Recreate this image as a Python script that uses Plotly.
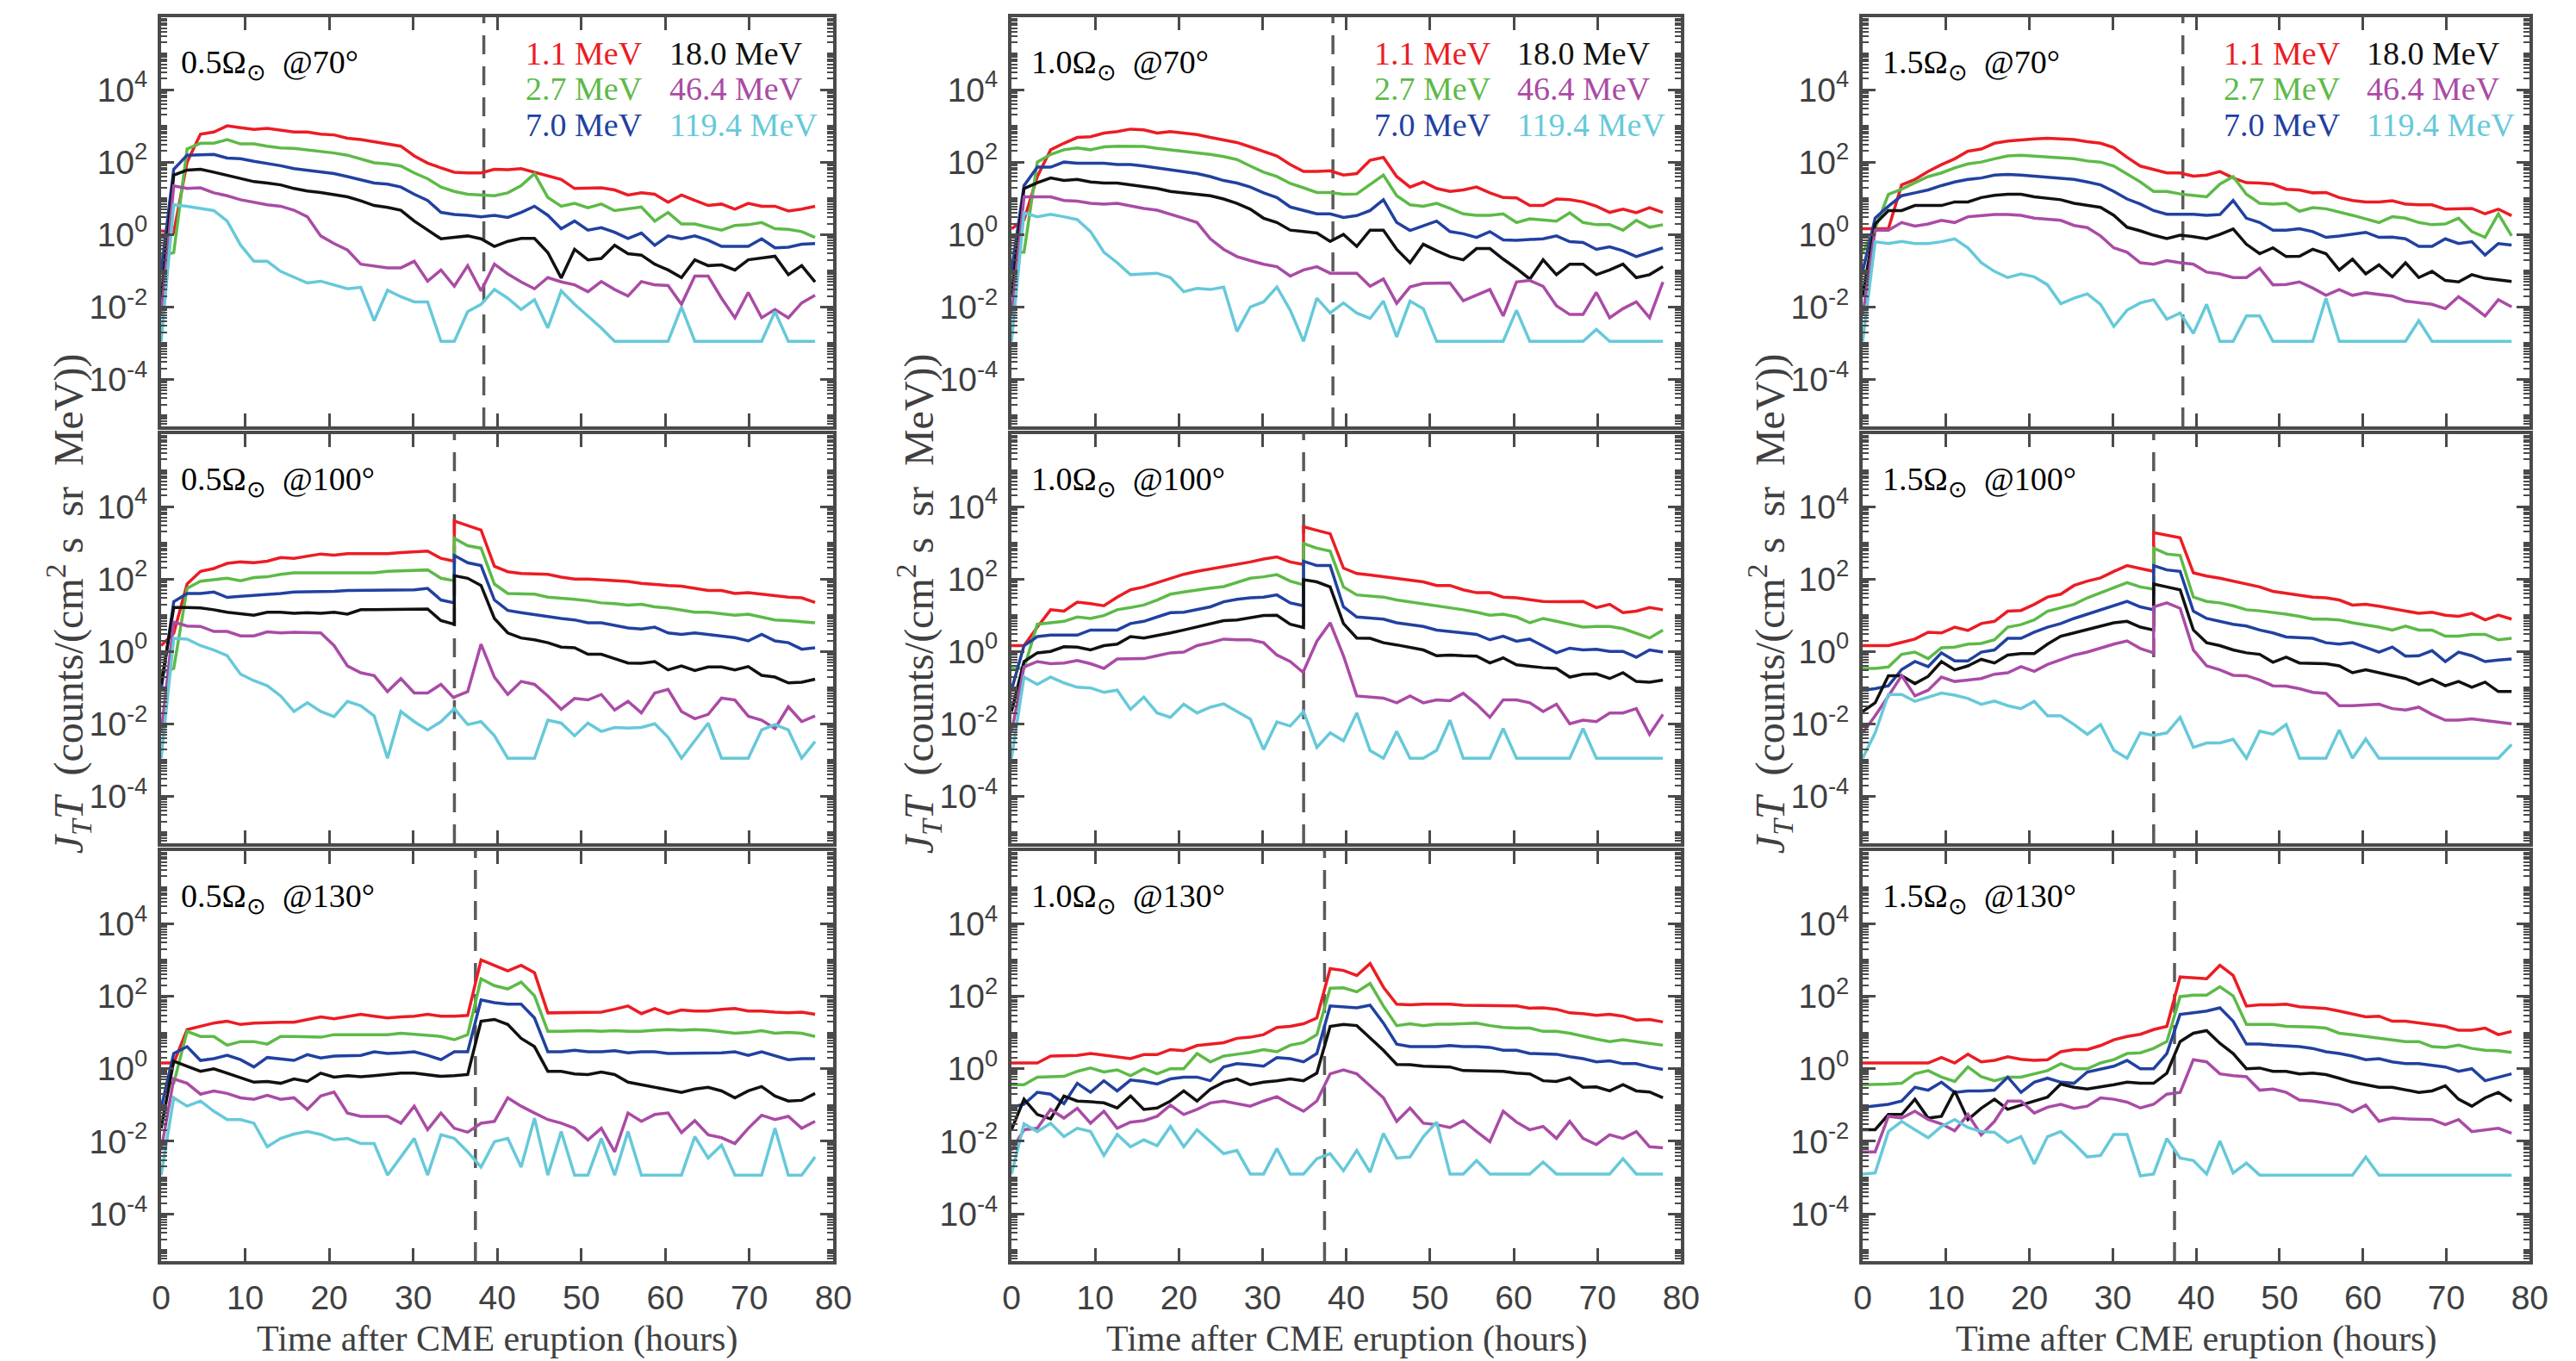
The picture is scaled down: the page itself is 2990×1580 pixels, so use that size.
import numpy as np
import plotly.graph_objects as go

# ---------------- data (log10 of J_T T) ----------------
TIME_HOURS = [0.0, 1.5, 3.09, 4.68, 6.27, 7.86, 9.45, 11.04, 12.63, 14.22,
              15.81, 17.4, 18.99, 20.58, 22.17, 23.76, 25.35, 26.94, 28.53, 30.12,
              31.71, 33.3, 34.89, 36.48, 38.07, 39.66, 41.25, 42.84, 44.43, 46.02,
              47.61, 49.2, 50.79, 52.38, 53.97, 55.56, 57.15, 58.74, 60.33, 61.92,
              63.51, 65.1, 66.69, 68.28, 69.87, 71.46, 73.05, 74.64, 76.23, 77.82]
# row 100 deg: shock sample at 34.89 h is stored twice (before / after the jump)
TIME_HOURS_100 = TIME_HOURS[:23] + [TIME_HOURS[22]] + TIME_HOURS[23:]

SHOCK_TIME = [38.4, 34.9, 37.4]          # dashed lines, rows 70, 100, 130 deg
ANGLES = ["70", "100", "130"]
ROTATIONS = ["0.5", "1.0", "1.5"]
ENERGY_LABELS = ["1.1 MeV", "2.7 MeV", "7.0 MeV", "18.0 MeV", "46.4 MeV", "119.4 MeV"]
COLORS = ["#EC1C24", "#5DBA47", "#2141A0", "#111111", "#AA4BA5", "#66C9D9"]

# ---- 0.5 Omega, 70 deg
R05_A070_E1 = [0.1, 0.05, 2.0, 2.77, 2.83, 3.0, 2.95, 2.9, 2.93, 2.87, 2.83, 2.83, 2.77, 2.75, 2.66, 2.62, 2.56, 2.5, 2.44, 2.17, 1.97, 1.84, 1.72, 1.7, 1.7, 1.8, 1.79, 1.82, 1.72, 1.64, 1.52, 1.27, 1.27, 1.29, 1.23, 1.09, 1.15, 1.11, 0.89, 1.09, 0.94, 0.8, 0.84, 0.7, 0.86, 0.78, 0.78, 0.65, 0.7, 0.78]
R05_A070_E2 = [-0.6, -0.5, 2.36, 2.52, 2.52, 2.62, 2.5, 2.5, 2.44, 2.39, 2.38, 2.34, 2.28, 2.25, 2.19, 2.09, 1.98, 1.95, 1.89, 1.7, 1.54, 1.31, 1.19, 1.11, 1.09, 1.07, 1.15, 1.35, 1.68, 1.02, 0.78, 0.86, 0.74, 0.84, 0.66, 0.7, 0.76, 0.37, 0.61, 0.29, 0.29, 0.2, 0.12, 0.25, 0.27, 0.33, 0.16, 0.14, 0.08, -0.08]
R05_A070_E3 = [-1.02, 1.8, 2.19, 2.19, 2.21, 2.11, 2.09, 2.02, 1.97, 1.9, 1.82, 1.78, 1.72, 1.68, 1.6, 1.52, 1.42, 1.39, 1.31, 1.11, 0.94, 0.61, 0.55, 0.53, 0.49, 0.53, 0.47, 0.61, 0.78, 0.53, 0.16, 0.37, 0.12, 0.19, 0.06, -0.11, 0.04, -0.3, -0.04, -0.12, -0.04, -0.16, -0.33, -0.33, -0.33, -0.12, -0.37, -0.35, -0.27, -0.25]
R05_A070_E4 = [-1.8, 1.64, 1.78, 1.8, 1.72, 1.64, 1.56, 1.46, 1.42, 1.37, 1.27, 1.2, 1.16, 1.11, 1.04, 0.93, 0.8, 0.75, 0.67, 0.37, 0.12, -0.12, -0.08, -0.04, -0.12, -0.33, -0.19, -0.11, -0.11, -0.5, -1.2, -0.41, -0.7, -0.66, -0.3, -0.53, -0.57, -0.82, -0.98, -1.19, -0.7, -0.86, -0.84, -0.98, -0.7, -0.64, -0.6, -1.11, -0.86, -1.31]
R05_A070_E5 = [-2.25, 1.34, 1.27, 1.29, 1.15, 1.07, 0.96, 0.88, 0.82, 0.78, 0.67, 0.49, -0.04, -0.25, -0.43, -0.82, -0.88, -0.92, -0.92, -0.74, -1.29, -0.98, -1.43, -0.86, -1.56, -0.82, -1.09, -1.31, -1.5, -1.19, -1.31, -1.39, -1.58, -1.3, -1.52, -1.7, -1.3, -1.39, -1.41, -1.93, -1.15, -1.15, -1.76, -2.3, -1.6, -2.3, -2.07, -2.3, -1.89, -1.68]
R05_A070_E6 = [-2.95, 0.82, 0.78, 0.72, 0.66, 0.37, -0.29, -0.74, -0.74, -1.02, -1.19, -1.34, -1.29, -1.39, -1.5, -1.46, -2.38, -1.54, -1.72, -1.86, -1.86, -2.95, -2.95, -2.13, -1.93, -1.52, -1.76, -2.07, -1.8, -2.58, -1.56, -1.93, -2.25, -2.58, -2.95, -2.95, -2.95, -2.95, -2.95, -2.0, -2.95, -2.95, -2.95, -2.95, -2.95, -2.95, -2.13, -2.95, -2.95, -2.95]

# ---- 1.0 Omega, 70 deg
R10_A070_E1 = [0.16, 0.4, 1.6, 2.34, 2.52, 2.68, 2.7, 2.8, 2.84, 2.91, 2.89, 2.8, 2.84, 2.8, 2.76, 2.68, 2.62, 2.54, 2.42, 2.3, 2.17, 1.93, 1.74, 1.74, 1.76, 1.64, 1.68, 2.05, 2.13, 1.6, 1.31, 1.45, 1.27, 1.19, 1.23, 1.31, 1.15, 1.02, 1.01, 0.8, 0.8, 0.98, 0.96, 0.9, 0.78, 0.61, 0.7, 0.6, 0.74, 0.61]
R10_A070_E2 = [-0.49, -0.49, 2.0, 2.21, 2.34, 2.39, 2.34, 2.42, 2.44, 2.44, 2.43, 2.38, 2.34, 2.3, 2.25, 2.21, 2.15, 2.07, 1.89, 1.72, 1.6, 1.41, 1.29, 1.16, 1.16, 1.11, 1.12, 1.37, 1.64, 1.07, 0.82, 0.78, 0.86, 0.72, 0.57, 0.53, 0.53, 0.57, 0.33, 0.43, 0.41, 0.37, 0.6, 0.33, 0.27, 0.27, 0.12, 0.39, 0.2, 0.27]
R10_A070_E3 = [-1.02, 1.35, 1.86, 1.86, 2.0, 1.97, 1.97, 1.97, 1.93, 1.93, 1.89, 1.84, 1.78, 1.72, 1.68, 1.6, 1.49, 1.42, 1.31, 1.15, 1.02, 0.76, 0.66, 0.57, 0.57, 0.47, 0.52, 0.66, 0.96, 0.33, 0.11, 0.25, 0.37, 0.08, 0.02, -0.08, 0.08, -0.15, -0.16, -0.14, -0.12, -0.04, -0.2, -0.22, -0.41, -0.34, -0.45, -0.61, -0.49, -0.37]
R10_A070_E4 = [-1.68, 1.27, 1.43, 1.56, 1.49, 1.52, 1.45, 1.42, 1.42, 1.37, 1.31, 1.27, 1.19, 1.15, 1.11, 1.07, 0.98, 0.86, 0.7, 0.45, 0.33, 0.12, 0.08, 0.04, -0.19, 0.0, -0.33, 0.12, 0.12, -0.41, -0.78, -0.27, -0.45, -0.61, -0.7, -0.39, -0.39, -0.68, -0.94, -1.23, -0.7, -1.11, -0.82, -0.82, -1.11, -0.98, -0.82, -1.19, -1.11, -0.89]
R10_A070_E5 = [-2.25, 1.04, 1.04, 1.04, 0.94, 0.92, 0.86, 0.84, 0.86, 0.78, 0.72, 0.67, 0.57, 0.45, 0.33, -0.12, -0.41, -0.61, -0.72, -0.82, -0.89, -1.15, -0.98, -0.89, -1.07, -1.07, -1.07, -1.43, -1.23, -1.9, -1.45, -1.35, -1.35, -1.34, -1.83, -1.68, -1.52, -2.25, -1.31, -1.27, -1.43, -1.97, -2.21, -2.21, -1.6, -2.3, -2.05, -1.86, -2.3, -1.31]
R10_A070_E6 = [-2.95, 0.6, 0.49, 0.56, 0.49, 0.41, 0.08, -0.49, -0.78, -1.11, -1.09, -1.07, -1.19, -1.58, -1.49, -1.52, -1.45, -2.68, -2.0, -1.86, -1.45, -2.09, -2.95, -1.76, -2.17, -1.89, -2.17, -2.32, -1.84, -2.83, -1.84, -2.05, -2.95, -2.95, -2.95, -2.95, -2.95, -2.95, -2.09, -2.95, -2.95, -2.95, -2.95, -2.95, -2.62, -2.95, -2.95, -2.95, -2.95, -2.95]

# ---- 1.5 Omega, 70 deg
R15_A070_E1 = [0.16, 0.16, 0.16, 1.37, 1.52, 1.74, 1.93, 2.09, 2.3, 2.36, 2.52, 2.58, 2.62, 2.64, 2.66, 2.65, 2.62, 2.56, 2.52, 2.4, 2.13, 1.89, 1.8, 1.7, 1.7, 1.61, 1.64, 1.74, 1.56, 1.43, 1.42, 1.39, 1.25, 1.23, 1.15, 1.16, 1.02, 0.94, 0.9, 0.9, 0.93, 0.84, 0.82, 0.82, 0.7, 0.71, 0.72, 0.57, 0.7, 0.52]
R15_A070_E2 = [-0.49, 0.16, 1.11, 1.25, 1.43, 1.6, 1.7, 1.84, 1.95, 2.0, 2.09, 2.17, 2.19, 2.17, 2.15, 2.11, 2.09, 2.03, 2.0, 1.89, 1.66, 1.45, 1.19, 1.19, 1.12, 1.09, 1.04, 1.39, 1.6, 1.11, 0.86, 0.84, 0.86, 0.64, 0.74, 0.71, 0.63, 0.53, 0.43, 0.33, 0.49, 0.45, 0.33, 0.27, 0.29, 0.45, 0.08, -0.08, 0.57, -0.04]
R15_A070_E3 = [-1.02, 0.45, 0.78, 1.07, 1.15, 1.23, 1.35, 1.45, 1.52, 1.56, 1.64, 1.66, 1.64, 1.61, 1.6, 1.57, 1.52, 1.45, 1.37, 1.19, 0.98, 0.84, 0.66, 0.56, 0.56, 0.56, 0.53, 0.55, 0.94, 0.45, 0.33, 0.12, 0.12, 0.16, 0.08, -0.08, -0.04, 0.0, 0.06, -0.08, -0.07, -0.12, -0.33, -0.33, -0.12, -0.25, -0.2, -0.57, -0.25, -0.29]
R15_A070_E4 = [-1.68, 0.29, 0.66, 0.66, 0.8, 0.8, 0.8, 0.9, 0.9, 1.02, 1.08, 1.11, 1.11, 1.04, 1.01, 0.96, 0.86, 0.8, 0.75, 0.53, 0.2, 0.1, -0.02, -0.11, -0.02, -0.06, -0.12, 0.0, 0.15, -0.27, -0.53, -0.37, -0.61, -0.6, -0.41, -0.53, -0.98, -0.68, -1.09, -0.84, -1.17, -0.78, -1.19, -1.02, -1.27, -1.31, -1.11, -1.21, -1.25, -1.3]
R15_A070_E5 = [-2.25, 0.12, 0.12, 0.33, 0.23, 0.29, 0.39, 0.33, 0.49, 0.53, 0.55, 0.55, 0.53, 0.45, 0.43, 0.39, 0.25, 0.19, -0.04, -0.37, -0.49, -0.78, -0.82, -0.72, -0.78, -0.82, -1.04, -1.09, -1.19, -1.19, -0.93, -1.39, -1.38, -1.31, -1.48, -1.68, -1.52, -1.68, -1.61, -1.66, -1.7, -1.84, -1.89, -1.93, -2.05, -1.72, -1.97, -2.25, -1.8, -2.0]
R15_A070_E6 = [-2.95, -0.2, -0.25, -0.19, -0.25, -0.25, -0.2, -0.12, -0.37, -0.78, -1.02, -1.19, -1.09, -1.17, -1.39, -1.91, -1.76, -1.64, -1.93, -2.54, -2.09, -1.89, -1.8, -2.34, -2.17, -2.73, -1.93, -2.95, -2.95, -2.25, -2.25, -2.95, -2.95, -2.95, -2.95, -1.76, -2.95, -2.95, -2.95, -2.95, -2.95, -2.95, -2.38, -2.95, -2.95, -2.95, -2.95, -2.95, -2.95, -2.95]

# ---- 0.5 Omega, 100 deg (51 samples)
R05_A100_E1 = [0.16, 0.5, 1.86, 2.21, 2.29, 2.43, 2.47, 2.45, 2.49, 2.59, 2.57, 2.63, 2.69, 2.66, 2.7, 2.7, 2.69, 2.7, 2.73, 2.74, 2.77, 2.57, 2.49, 3.6, 3.48, 3.35, 2.35, 2.2, 2.15, 2.13, 2.13, 2.05, 2.0, 2.0, 1.98, 1.95, 1.93, 1.88, 1.84, 1.82, 1.8, 1.75, 1.68, 1.68, 1.6, 1.62, 1.58, 1.52, 1.5, 1.48, 1.35]
R05_A100_E2 = [-0.6, -0.47, 1.74, 1.94, 1.98, 2.02, 1.95, 2.04, 2.06, 2.13, 2.17, 2.17, 2.19, 2.19, 2.19, 2.17, 2.17, 2.21, 2.23, 2.23, 2.25, 2.02, 1.95, 3.12, 2.92, 2.85, 1.86, 1.6, 1.6, 1.58, 1.5, 1.48, 1.44, 1.4, 1.34, 1.32, 1.28, 1.3, 1.23, 1.2, 1.15, 1.08, 1.08, 1.03, 1.0, 1.03, 0.95, 0.87, 0.85, 0.83, 0.79]
R05_A100_E3 = [-1.07, 1.37, 1.6, 1.6, 1.64, 1.49, 1.52, 1.54, 1.56, 1.6, 1.64, 1.64, 1.64, 1.66, 1.68, 1.68, 1.7, 1.7, 1.7, 1.7, 1.74, 1.42, 1.34, 2.65, 2.45, 2.37, 1.42, 1.13, 1.07, 1.01, 0.95, 0.91, 0.87, 0.79, 0.79, 0.73, 0.65, 0.62, 0.67, 0.51, 0.47, 0.51, 0.47, 0.42, 0.38, 0.29, 0.47, 0.29, 0.24, 0.06, 0.1]
R05_A100_E4 = [-0.91, 1.21, 1.21, 1.2, 1.15, 1.08, 1.04, 1.0, 1.08, 1.08, 1.05, 1.07, 1.05, 1.08, 1.03, 1.15, 1.15, 1.16, 1.17, 1.17, 1.17, 0.85, 0.75, 2.09, 2.02, 1.82, 0.91, 0.51, 0.37, 0.32, 0.24, 0.12, 0.1, -0.08, -0.08, -0.2, -0.32, -0.33, -0.28, -0.51, -0.4, -0.53, -0.43, -0.43, -0.51, -0.42, -0.66, -0.71, -0.87, -0.85, -0.77]
R05_A100_E5 = [-2.25, 0.81, 0.7, 0.69, 0.55, 0.55, 0.43, 0.43, 0.54, 0.51, 0.53, 0.51, 0.51, 0.16, -0.4, -0.59, -0.67, -1.11, -0.75, -1.15, -1.15, -0.91, -1.3, -1.26, -1.11, 0.2, -0.71, -1.19, -0.83, -0.91, -1.23, -1.6, -1.3, -1.34, -1.19, -1.62, -1.38, -1.7, -1.15, -1.05, -1.66, -1.86, -1.74, -1.29, -1.34, -1.79, -1.9, -2.13, -1.53, -1.94, -1.78]
R05_A100_E6 = [-2.95, 0.36, 0.34, 0.16, 0.04, -0.12, -0.63, -0.81, -0.95, -1.23, -1.66, -1.42, -1.66, -1.8, -1.38, -1.5, -1.78, -2.95, -1.66, -1.94, -2.17, -1.94, -1.58, -1.58, -2.02, -1.94, -2.33, -2.95, -2.95, -2.95, -1.9, -1.98, -2.33, -1.98, -2.21, -2.1, -2.12, -2.1, -2.0, -2.37, -2.95, -2.45, -1.98, -2.95, -2.95, -2.95, -2.17, -2.02, -2.17, -2.95, -2.49]

# ---- 1.0 Omega, 100 deg (51 samples)
R10_A100_E1 = [0.16, 0.16, 0.67, 1.15, 1.11, 1.36, 1.32, 1.26, 1.5, 1.7, 1.78, 1.9, 2.0, 2.13, 2.21, 2.27, 2.35, 2.4, 2.47, 2.55, 2.61, 2.47, 2.4, 3.44, 3.34, 3.25, 2.3, 2.15, 2.11, 2.06, 2.02, 1.98, 1.92, 1.82, 1.82, 1.7, 1.62, 1.62, 1.5, 1.48, 1.42, 1.38, 1.37, 1.37, 1.38, 1.21, 1.3, 1.07, 1.11, 1.21, 1.15]
R10_A100_E2 = [-0.47, -0.47, 0.75, 0.79, 0.83, 0.95, 0.91, 0.99, 1.15, 1.21, 1.28, 1.42, 1.58, 1.64, 1.7, 1.75, 1.79, 1.9, 2.02, 2.06, 2.12, 1.94, 1.84, 2.98, 2.85, 2.77, 1.78, 1.56, 1.54, 1.5, 1.42, 1.37, 1.32, 1.26, 1.21, 1.15, 1.08, 1.0, 1.03, 0.95, 0.79, 0.91, 0.83, 0.74, 0.67, 0.69, 0.69, 0.63, 0.51, 0.37, 0.59]
R10_A100_E3 = [-1.07, 0.16, 0.41, 0.45, 0.45, 0.45, 0.59, 0.59, 0.59, 0.77, 0.83, 0.95, 1.07, 1.08, 1.16, 1.23, 1.37, 1.44, 1.48, 1.5, 1.56, 1.34, 1.26, 2.49, 2.37, 2.37, 1.23, 0.95, 0.92, 0.89, 0.79, 0.74, 0.69, 0.59, 0.54, 0.51, 0.47, 0.32, 0.42, 0.28, 0.34, 0.16, -0.04, 0.09, 0.04, 0.06, 0.0, 0.0, -0.16, 0.04, -0.02]
R10_A100_E4 = [-1.66, -0.28, -0.04, 0.0, 0.13, 0.12, 0.04, 0.16, 0.2, 0.41, 0.37, 0.43, 0.51, 0.59, 0.67, 0.75, 0.85, 0.87, 0.92, 0.99, 1.0, 0.75, 0.66, 1.98, 1.92, 1.78, 0.77, 0.37, 0.36, 0.24, 0.18, 0.12, 0.04, -0.12, -0.1, -0.12, -0.13, -0.32, -0.18, -0.37, -0.42, -0.45, -0.47, -0.71, -0.63, -0.62, -0.75, -0.59, -0.83, -0.85, -0.79]
R10_A100_E5 = [-2.25, -0.43, -0.28, -0.34, -0.32, -0.25, -0.34, -0.47, -0.21, -0.2, -0.2, -0.12, -0.04, -0.02, 0.16, 0.24, 0.34, 0.32, 0.32, 0.24, -0.1, -0.28, -0.59, -0.55, 0.28, 0.79, -0.12, -1.23, -1.26, -1.29, -1.42, -1.23, -1.42, -1.34, -1.36, -1.16, -1.46, -1.82, -1.34, -1.34, -1.42, -1.66, -1.46, -2.0, -1.9, -1.94, -1.7, -1.7, -1.58, -2.29, -1.74]
R10_A100_E6 = [-2.95, -0.71, -0.91, -0.71, -0.87, -0.99, -1.01, -1.13, -1.07, -1.6, -1.26, -1.7, -1.82, -1.46, -1.7, -1.54, -1.45, -1.66, -1.87, -2.71, -1.95, -2.06, -1.66, -1.66, -2.65, -2.25, -2.47, -1.7, -2.74, -2.95, -2.21, -2.95, -2.95, -2.73, -1.9, -2.95, -2.95, -2.95, -2.13, -2.95, -2.95, -2.95, -2.95, -2.95, -2.13, -2.95, -2.95, -2.95, -2.95, -2.95, -2.95]

# ---- 1.5 Omega, 100 deg (51 samples)
R15_A100_E1 = [0.16, 0.16, 0.16, 0.25, 0.34, 0.53, 0.51, 0.67, 0.58, 0.77, 0.83, 1.11, 1.13, 1.3, 1.5, 1.58, 1.82, 1.94, 2.03, 2.21, 2.37, 2.29, 2.21, 3.28, 3.2, 3.14, 2.17, 2.08, 2.02, 1.94, 1.84, 1.78, 1.66, 1.6, 1.54, 1.5, 1.48, 1.42, 1.28, 1.3, 1.25, 1.19, 1.13, 1.05, 1.08, 1.0, 0.97, 1.05, 0.87, 1.0, 0.89]
R15_A100_E2 = [-0.47, -0.47, -0.43, -0.08, -0.02, -0.2, 0.1, 0.12, 0.2, 0.22, 0.32, 0.67, 0.74, 0.87, 1.11, 1.21, 1.3, 1.48, 1.62, 1.75, 1.9, 1.78, 1.72, 2.85, 2.69, 2.65, 1.5, 1.38, 1.34, 1.26, 1.15, 1.12, 1.08, 1.03, 0.97, 0.89, 0.89, 0.87, 0.79, 0.74, 0.67, 0.59, 0.7, 0.59, 0.59, 0.42, 0.42, 0.47, 0.47, 0.32, 0.36]
R15_A100_E3 = [-1.07, -1.03, -0.95, -0.5, -0.28, -0.42, -0.04, -0.26, -0.26, -0.02, 0.04, 0.36, 0.36, 0.53, 0.67, 0.77, 0.91, 1.03, 1.16, 1.28, 1.38, 1.23, 1.15, 2.37, 2.25, 2.21, 1.11, 0.91, 0.83, 0.75, 0.7, 0.59, 0.51, 0.4, 0.38, 0.36, 0.24, 0.2, 0.24, 0.12, -0.02, 0.12, -0.13, -0.12, 0.02, -0.28, -0.02, -0.12, -0.28, -0.24, -0.21]
R15_A100_E4 = [-1.66, -1.42, -0.67, -0.67, -0.89, -0.69, -0.28, -0.51, -0.4, -0.22, -0.32, -0.1, -0.06, -0.06, 0.2, 0.42, 0.51, 0.61, 0.71, 0.79, 0.83, 0.67, 0.59, 1.86, 1.78, 1.7, 0.59, 0.24, 0.16, 0.04, -0.04, -0.08, -0.3, -0.16, -0.32, -0.32, -0.34, -0.4, -0.59, -0.51, -0.59, -0.69, -0.75, -0.91, -0.77, -0.95, -0.83, -0.99, -0.85, -1.11, -1.11]
R15_A100_E5 = [-2.25, -1.78, -1.23, -0.67, -1.23, -1.07, -0.71, -0.83, -0.79, -0.75, -0.63, -0.59, -0.42, -0.55, -0.36, -0.24, -0.1, -0.02, 0.1, 0.2, 0.29, 0.08, -0.04, 1.23, 1.34, 1.19, 0.04, -0.4, -0.51, -0.66, -0.67, -0.79, -0.95, -0.96, -1.03, -1.13, -1.16, -1.5, -1.5, -1.49, -1.46, -1.58, -1.62, -1.54, -1.74, -1.9, -1.9, -1.86, -1.9, -1.95, -2.0]
R15_A100_E6 = [-2.95, -2.25, -1.19, -1.19, -1.38, -1.26, -1.15, -1.21, -1.3, -1.46, -1.37, -1.5, -1.58, -1.38, -1.78, -1.78, -2.02, -2.29, -2.02, -2.73, -2.95, -2.25, -2.32, -2.32, -2.25, -1.82, -2.65, -2.53, -2.53, -2.43, -2.95, -2.2, -2.29, -2.02, -2.95, -2.95, -2.95, -2.17, -2.95, -2.42, -2.95, -2.95, -2.95, -2.95, -2.95, -2.95, -2.95, -2.95, -2.95, -2.95, -2.57]

# ---- 0.5 Omega, 130 deg
R05_A130_E1 = [0.16, 0.16, 1.08, 1.17, 1.26, 1.31, 1.22, 1.26, 1.28, 1.28, 1.28, 1.36, 1.43, 1.38, 1.45, 1.5, 1.45, 1.4, 1.43, 1.45, 1.5, 1.45, 1.45, 1.47, 3.0, 2.85, 2.7, 2.85, 2.65, 1.54, 1.54, 1.54, 1.54, 1.56, 1.64, 1.73, 1.52, 1.66, 1.52, 1.62, 1.59, 1.59, 1.64, 1.66, 1.59, 1.59, 1.56, 1.54, 1.56, 1.5]
R05_A130_E2 = [-0.42, -0.4, 1.03, 0.89, 0.89, 0.65, 0.75, 0.75, 0.68, 0.89, 0.89, 0.87, 0.87, 0.94, 0.94, 0.92, 0.92, 0.94, 0.98, 0.95, 0.94, 0.89, 0.8, 0.94, 2.48, 2.29, 2.2, 2.39, 2.01, 1.03, 1.03, 1.05, 1.05, 1.03, 1.05, 1.03, 1.03, 1.06, 1.08, 1.06, 1.08, 1.06, 1.03, 0.98, 1.0, 1.05, 0.98, 1.0, 0.98, 0.89]
R05_A130_E3 = [-1.08, 0.42, 0.61, 0.23, 0.28, 0.37, 0.25, 0.05, 0.31, 0.28, 0.23, 0.39, 0.3, 0.35, 0.35, 0.37, 0.47, 0.42, 0.44, 0.47, 0.37, 0.25, 0.47, 0.47, 1.9, 1.82, 1.78, 1.78, 1.4, 0.47, 0.47, 0.51, 0.47, 0.47, 0.5, 0.44, 0.47, 0.47, 0.42, 0.42, 0.44, 0.44, 0.44, 0.47, 0.37, 0.47, 0.37, 0.25, 0.28, 0.28]
R05_A130_E4 = [-1.64, 0.21, 0.07, -0.07, 0.0, -0.12, -0.23, -0.37, -0.35, -0.4, -0.28, -0.35, -0.12, -0.23, -0.19, -0.22, -0.19, -0.16, -0.12, -0.12, -0.16, -0.21, -0.19, -0.16, 1.31, 1.36, 1.22, 0.84, 0.61, -0.07, -0.07, -0.14, -0.16, -0.09, -0.16, -0.37, -0.44, -0.51, -0.56, -0.65, -0.56, -0.51, -0.61, -0.8, -0.61, -0.49, -0.75, -0.89, -0.87, -0.68]
R05_A130_E5 = [-2.25, -0.28, -0.4, -0.7, -0.61, -0.68, -0.8, -0.84, -0.73, -0.84, -0.8, -1.12, -0.75, -0.64, -1.22, -1.31, -1.31, -1.31, -1.5, -1.03, -1.68, -1.22, -1.64, -1.75, -1.5, -1.45, -0.8, -1.03, -1.22, -1.4, -1.5, -1.64, -1.96, -1.64, -2.29, -1.22, -1.45, -1.26, -1.22, -1.76, -1.43, -1.82, -1.9, -2.06, -1.64, -1.28, -1.4, -1.31, -1.64, -1.45]
R05_A130_E6 = [-2.93, -0.8, -1.03, -0.89, -1.17, -1.4, -1.4, -1.5, -2.15, -1.92, -1.8, -1.73, -1.81, -1.96, -1.92, -2.06, -2.06, -2.93, -2.43, -1.92, -2.93, -1.82, -1.92, -2.29, -2.71, -2.01, -1.92, -2.71, -1.36, -2.93, -1.73, -2.93, -2.93, -1.92, -2.93, -1.73, -2.93, -2.93, -2.93, -2.93, -1.87, -2.46, -2.1, -2.93, -2.93, -2.93, -1.64, -2.93, -2.93, -2.43]

# ---- 1.0 Omega, 130 deg
R10_A130_E1 = [0.16, 0.16, 0.16, 0.35, 0.35, 0.37, 0.42, 0.37, 0.33, 0.28, 0.39, 0.39, 0.53, 0.5, 0.64, 0.68, 0.72, 0.84, 0.87, 0.94, 1.14, 1.17, 1.24, 1.4, 2.76, 2.71, 2.57, 2.9, 2.25, 1.78, 1.76, 1.78, 1.78, 1.78, 1.75, 1.75, 1.73, 1.75, 1.73, 1.67, 1.68, 1.64, 1.54, 1.52, 1.47, 1.5, 1.45, 1.34, 1.36, 1.29]
R10_A130_E2 = [-0.44, -0.44, -0.23, -0.22, -0.21, -0.07, 0.02, -0.09, -0.03, -0.19, 0.0, -0.14, 0.0, 0.0, 0.42, 0.19, 0.35, 0.4, 0.45, 0.53, 0.47, 0.65, 0.72, 0.94, 2.22, 2.23, 2.12, 2.35, 1.73, 1.19, 1.24, 1.19, 1.23, 1.23, 1.24, 1.26, 1.19, 1.14, 1.12, 1.12, 1.03, 1.03, 0.98, 0.89, 0.82, 0.75, 0.8, 0.75, 0.7, 0.65]
R10_A130_E3 = [-1.06, -0.98, -0.65, -0.7, -0.96, -0.4, -0.65, -0.33, -0.61, -0.31, -0.35, -0.42, -0.28, -0.23, -0.23, -0.33, 0.05, 0.14, 0.11, 0.07, 0.31, 0.28, 0.19, 0.42, 1.73, 1.71, 1.68, 1.75, 1.26, 0.68, 0.61, 0.61, 0.61, 0.64, 0.61, 0.61, 0.59, 0.51, 0.51, 0.42, 0.42, 0.4, 0.33, 0.28, 0.19, 0.22, 0.14, 0.14, 0.05, -0.02]
R10_A130_E4 = [-1.68, -0.84, -1.26, -1.38, -0.75, -0.89, -0.91, -0.94, -1.08, -0.75, -1.12, -1.08, -0.89, -0.61, -0.89, -0.56, -0.37, -0.28, -0.44, -0.37, -0.33, -0.28, -0.33, -0.12, 1.17, 1.22, 1.19, 0.84, 0.51, 0.12, 0.11, 0.07, 0.07, 0.05, -0.05, -0.05, -0.07, -0.07, -0.12, -0.14, -0.33, -0.35, -0.25, -0.51, -0.5, -0.61, -0.44, -0.61, -0.64, -0.8]
R10_A130_E5 = [-2.25, -1.68, -1.64, -1.12, -1.36, -1.09, -1.5, -1.17, -1.64, -1.47, -1.43, -1.31, -1.0, -1.26, -1.12, -0.94, -0.89, -0.96, -1.03, -0.89, -0.77, -0.98, -1.17, -0.89, -0.14, -0.03, -0.14, -0.47, -0.8, -1.45, -1.08, -1.5, -1.54, -1.62, -1.43, -1.73, -2.01, -1.17, -1.47, -1.68, -1.59, -1.92, -1.45, -1.92, -2.09, -1.82, -1.92, -1.73, -2.15, -2.18]
R10_A130_E6 = [-2.9, -1.52, -1.73, -1.5, -1.87, -1.64, -1.73, -2.39, -1.81, -2.15, -1.96, -2.12, -1.59, -2.15, -1.68, -2.01, -2.34, -2.25, -2.9, -2.9, -2.2, -2.9, -2.9, -2.48, -2.34, -2.81, -2.25, -2.85, -1.78, -2.46, -2.43, -1.87, -1.47, -2.9, -2.9, -2.53, -2.9, -2.9, -2.9, -2.9, -2.57, -2.9, -2.9, -2.9, -2.9, -2.9, -2.48, -2.9, -2.9, -2.9]

# ---- 1.5 Omega, 130 deg
R15_A130_E1 = [0.16, 0.16, 0.16, 0.16, 0.16, 0.16, 0.31, 0.16, 0.4, 0.19, 0.23, 0.33, 0.26, 0.23, 0.25, 0.47, 0.53, 0.53, 0.64, 0.8, 0.89, 0.95, 1.08, 1.17, 2.53, 2.51, 2.48, 2.85, 2.57, 1.73, 1.76, 1.76, 1.78, 1.71, 1.68, 1.66, 1.59, 1.5, 1.43, 1.45, 1.31, 1.31, 1.26, 1.2, 1.17, 1.06, 1.06, 1.12, 0.94, 1.03]
R15_A130_E2 = [-0.44, -0.44, -0.42, -0.4, -0.14, -0.05, -0.23, -0.35, 0.05, -0.22, -0.33, -0.23, -0.23, -0.14, -0.05, 0.14, 0.0, 0.0, 0.16, 0.25, 0.42, 0.44, 0.56, 0.75, 1.99, 2.03, 2.03, 2.26, 2.01, 1.22, 1.22, 1.22, 1.17, 1.17, 1.15, 1.12, 0.98, 0.94, 0.89, 0.84, 0.78, 0.75, 0.75, 0.61, 0.59, 0.65, 0.56, 0.51, 0.5, 0.45]
R15_A130_E3 = [-1.06, -1.03, -0.98, -0.89, -0.51, -0.59, -0.37, -0.65, -0.61, -0.61, -0.59, -0.23, -0.65, -0.37, -0.26, -0.37, -0.4, -0.09, 0.0, 0.07, 0.23, 0.0, 0.0, 0.42, 1.5, 1.54, 1.59, 1.68, 1.31, 0.68, 0.68, 0.65, 0.63, 0.61, 0.56, 0.47, 0.42, 0.35, 0.25, 0.28, 0.19, 0.14, 0.14, 0.09, 0.05, -0.07, 0.0, -0.33, -0.23, -0.14]
R15_A130_E4 = [-1.68, -1.68, -1.26, -1.26, -0.84, -1.36, -1.31, -0.61, -1.4, -1.09, -0.84, -1.12, -1.0, -0.89, -0.78, -0.42, -0.51, -0.56, -0.51, -0.44, -0.37, -0.4, -0.4, -0.12, 0.75, 0.98, 1.05, 0.7, 0.42, 0.0, 0.02, -0.07, -0.07, -0.14, -0.12, -0.16, -0.26, -0.37, -0.44, -0.51, -0.51, -0.59, -0.65, -0.61, -0.47, -0.84, -1.03, -0.8, -0.65, -0.89]
R15_A130_E5 = [-2.29, -2.29, -1.31, -1.36, -1.17, -1.4, -1.52, -1.71, -1.26, -1.82, -1.45, -0.89, -0.89, -1.22, -1.06, -0.98, -1.09, -1.03, -0.8, -0.84, -0.92, -1.08, -0.98, -0.7, -0.65, 0.25, 0.19, -0.14, -0.19, -0.22, -0.59, -0.56, -0.65, -0.86, -0.89, -0.94, -1.0, -1.19, -1.0, -1.45, -1.36, -1.38, -1.4, -1.4, -1.54, -1.4, -1.73, -1.68, -1.64, -1.78]
R15_A130_E6 = [-2.9, -2.87, -1.73, -1.45, -1.68, -1.9, -1.59, -1.4, -1.62, -1.73, -1.75, -2.03, -1.87, -2.62, -1.87, -1.73, -2.06, -2.43, -2.39, -1.81, -1.81, -2.95, -2.9, -1.92, -2.46, -2.53, -2.9, -1.99, -2.87, -2.6, -2.93, -2.93, -2.93, -2.93, -2.93, -2.93, -2.93, -2.93, -2.43, -2.93, -2.93, -2.93, -2.93, -2.93, -2.93, -2.93, -2.93, -2.93, -2.93, -2.93]

# panel table: rows = angle (70, 100, 130), cols = rotation (0.5, 1.0, 1.5)
PANELS = [
    [[R05_A070_E1, R05_A070_E2, R05_A070_E3, R05_A070_E4, R05_A070_E5, R05_A070_E6],
     [R10_A070_E1, R10_A070_E2, R10_A070_E3, R10_A070_E4, R10_A070_E5, R10_A070_E6],
     [R15_A070_E1, R15_A070_E2, R15_A070_E3, R15_A070_E4, R15_A070_E5, R15_A070_E6]],
    [[R05_A100_E1, R05_A100_E2, R05_A100_E3, R05_A100_E4, R05_A100_E5, R05_A100_E6],
     [R10_A100_E1, R10_A100_E2, R10_A100_E3, R10_A100_E4, R10_A100_E5, R10_A100_E6],
     [R15_A100_E1, R15_A100_E2, R15_A100_E3, R15_A100_E4, R15_A100_E5, R15_A100_E6]],
    [[R05_A130_E1, R05_A130_E2, R05_A130_E3, R05_A130_E4, R05_A130_E5, R05_A130_E6],
     [R10_A130_E1, R10_A130_E2, R10_A130_E3, R10_A130_E4, R10_A130_E5, R10_A130_E6],
     [R15_A130_E1, R15_A130_E2, R15_A130_E3, R15_A130_E4, R15_A130_E5, R15_A130_E6]],
]
ROW_TIMES = [TIME_HOURS, TIME_HOURS_100, TIME_HOURS]

# ---------------- layout ----------------
W, H = 2990, 1580
COL_PX = [(178, 967), (1176, 1962), (2175, 2958)]
ROW_PX = [(20, 495), (504, 979), (988, 1464)]
Y_LOG_RANGE = [-5.3, 6.0]
AXIS_GREY = "#4a4a4a"
TEXT_GREY = "#404040"
SERIF = "Liberation Serif, Times New Roman, serif"
SANS = "Liberation Sans, Arial, sans-serif"

minor_vals = []
for p in range(-6, 7):
    for m in range(1, 10):
        v = m * 10.0 ** p
        if m == 1 and p in (-4, -2, 0, 2, 4):
            continue
        minor_vals.append(v)

fig = go.Figure()
layout = dict(width=W, height=H, margin=dict(l=0, r=0, t=0, b=0),
              paper_bgcolor="white", plot_bgcolor="white", showlegend=False)
annotations = []
shapes = []

for r in range(3):
    for c in range(3):
        k = r * 3 + c + 1
        xname = "x" if k == 1 else f"x{k}"
        yname = "y" if k == 1 else f"y{k}"
        xkey = "xaxis" if k == 1 else f"xaxis{k}"
        ykey = "yaxis" if k == 1 else f"yaxis{k}"
        x0, x1 = COL_PX[c]
        ytop, ybot = ROW_PX[r]
        layout[xkey] = dict(
            domain=[x0 / W, x1 / W], anchor=yname, range=[0, 80],
            tickmode="array", tickvals=[0, 10, 20, 30, 40, 50, 60, 70, 80],
            ticks="inside", ticklen=15, tickwidth=2.5, tickcolor=AXIS_GREY,
            showline=True, linewidth=4, linecolor=AXIS_GREY, mirror="allticks",
            showgrid=False, zeroline=False, showticklabels=(r == 2),
            tickfont=dict(family=SANS, size=39, color=TEXT_GREY),
            ticklabelstandoff=5,
        )
        layout[ykey] = dict(
            domain=[1 - ybot / H, 1 - ytop / H], anchor=xname, type="log",
            range=Y_LOG_RANGE, tickmode="array",
            tickvals=[1e-4, 1e-2, 1, 1e2, 1e4],
            ticktext=["10<sup>-4</sup>", "10<sup>-2</sup>", "10<sup>0</sup>",
                      "10<sup>2</sup>", "10<sup>4</sup>"],
            ticks="inside", ticklen=15, tickwidth=2.5, tickcolor=AXIS_GREY,
            minor=dict(tickmode="array", tickvals=minor_vals, ticks="inside",
                       ticklen=7, tickwidth=2, tickcolor=AXIS_GREY, showgrid=False),
            showline=True, linewidth=4, linecolor=AXIS_GREY, mirror="allticks",
            showgrid=False, zeroline=False,
            tickfont=dict(family=SANS, size=39, color=TEXT_GREY),
            ticklabelstandoff=4,
        )
        # shock arrival dashed line
        shapes.append(dict(type="line", xref=xname, yref=f"{yname} domain",
                           x0=SHOCK_TIME[r], x1=SHOCK_TIME[r], y0=0, y1=1,
                           line=dict(color="#5a5a5a", width=3.5, dash="22px,14px"),
                           layer="below"))
        # series
        times = ROW_TIMES[r]
        for e in range(6):
            vals = 10.0 ** np.array(PANELS[r][c][e])
            fig.add_trace(go.Scatter(x=times, y=vals, mode="lines",
                                     line=dict(color=COLORS[e], width=3.5),
                                     xaxis=xname, yaxis=yname,
                                     name=ENERGY_LABELS[e], hoverinfo="skip"))
        # panel label
        annotations.append(dict(
            text=f"{ROTATIONS[c]}Ω<sub>⊙</sub>\u00a0\u00a0@{ANGLES[r]}°",
            xref=f"{xname} domain", yref=f"{yname} domain", x=0.027, y=0.885,
            xanchor="left", yanchor="middle", showarrow=False,
            font=dict(family=SERIF, size=38, color="black")))
        # legend (first row only)
        if r == 0:
            leg_x = [0.539, 0.753]
            leg_y = [0.9115, 0.8248, 0.7363]
            for e in range(6):
                annotations.append(dict(
                    text=ENERGY_LABELS[e], xref=f"{xname} domain", yref=f"{yname} domain",
                    x=leg_x[e // 3], y=leg_y[e % 3], xanchor="left", yanchor="middle",
                    showarrow=False, font=dict(family=SERIF, size=38, color=COLORS[e])))

# axis titles
for c in range(3):
    x0, x1 = COL_PX[c]
    annotations.append(dict(
        text="Time after CME eruption (hours)", xref="paper", yref="paper",
        x=(x0 + x1) / 2 / W, y=1 - 1554 / H, xanchor="center", yanchor="middle",
        showarrow=False, font=dict(family=SERIF, size=42, color=TEXT_GREY)))
    annotations.append(dict(
        text="<i>J</i><sub><i>T</i></sub><i>T</i>\u00a0 (counts/(cm<sup>2</sup>\u00a0s\u00a0 sr\u00a0 MeV))",
        xref="paper", yref="paper", x=(x0 - 108) / W, y=1 - 701 / H,
        xanchor="center", yanchor="middle", textangle=-90, showarrow=False,
        font=dict(family=SERIF, size=48, color=TEXT_GREY)))

layout["annotations"] = annotations
layout["shapes"] = shapes
fig.update_layout(**layout)
fig.write_html("out.html")
